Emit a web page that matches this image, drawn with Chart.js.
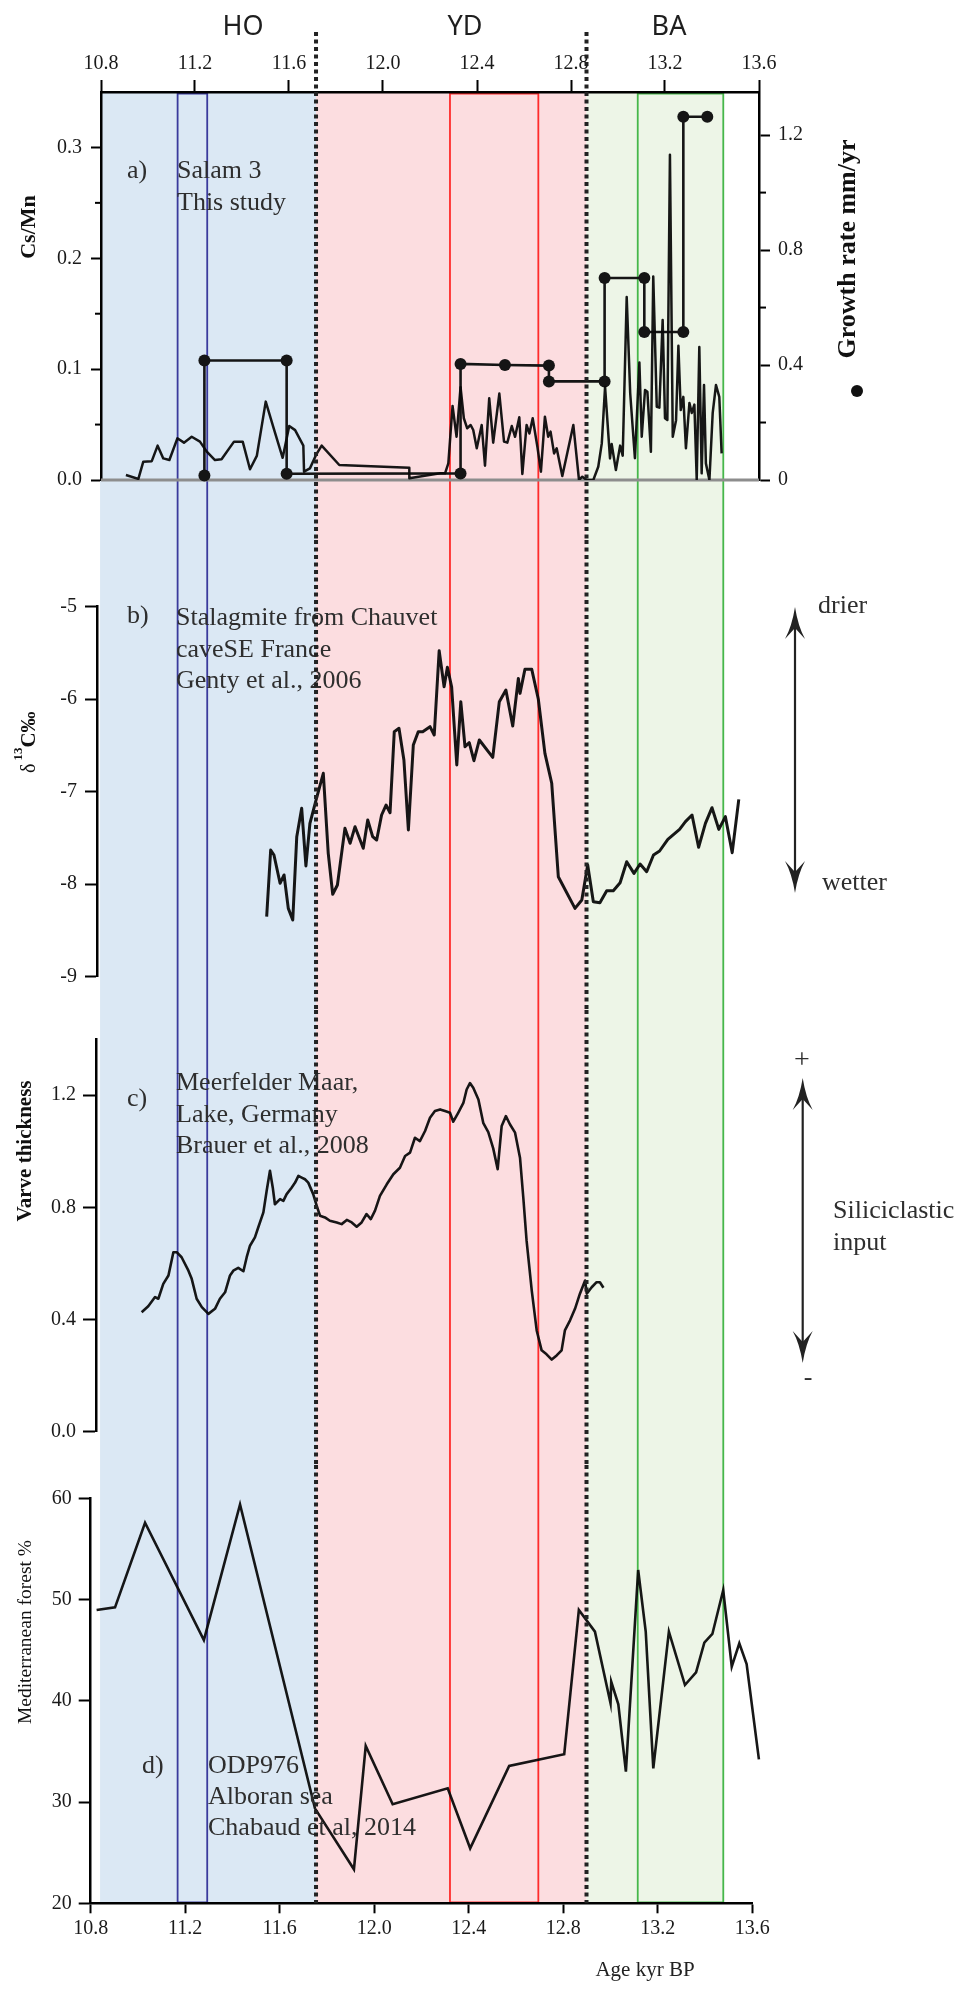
<!DOCTYPE html>
<html><head><meta charset="utf-8">
<script src="https://cdn.jsdelivr.net/npm/chart.js@4.4.1/dist/chart.umd.min.js"></script>
<style>
html,body{margin:0;padding:0;background:#fff;}
#wrap{position:relative;width:963px;height:2000px;overflow:hidden;background:#fff;}
#wrap canvas{position:absolute;left:0;}
</style></head><body><div id="wrap">
<canvas id="ca" width="963" height="540" style="top:0px"></canvas>
<canvas id="cb" width="963" height="470" style="top:540px"></canvas>
<canvas id="cc" width="963" height="455" style="top:1010px"></canvas>
<canvas id="cd" width="963" height="535" style="top:1465px"></canvas>
</div>
<script>
// ---------------- DATA ----------------
const X_TICKS = [10.8, 11.2, 11.6, 12.0, 12.4, 12.8, 13.2, 13.6];

const PERIOD_LABELS = ['HO', 'YD', 'BA'];
const PERIOD_LABEL_AT = [11.404, 12.349, 13.217];
const PERIOD_BOUNDS = [10.796, 11.715, 12.866, 13.448];
const BOX_RANGES = [[11.126, 11.252], [12.285, 12.661], [13.084, 13.448]];
const DOTTED_AT = [11.715, 12.866];

// a) Salam 3 Cs/Mn
const A_AGE = [10.906,10.959,10.980,11.016,11.041,11.065,11.091,11.125,11.153,11.186,11.221,11.250,11.285,11.313,11.366,11.403,11.434,11.463,11.501,11.533,11.573,11.601,11.626,11.661,11.664,11.689,11.715,11.739,11.814,12.112,12.112,12.243,12.264,12.278,12.296,12.313,12.330,12.344,12.358,12.373,12.384,12.399,12.420,12.434,12.452,12.469,12.495,12.515,12.529,12.548,12.562,12.580,12.593,12.611,12.623,12.637,12.657,12.672,12.689,12.703,12.713,12.728,12.739,12.763,12.810,12.834,12.848,12.867,12.895,12.916,12.931,12.945,12.963,12.966,12.973,12.991,13.009,13.020,13.037,13.052,13.072,13.091,13.101,13.115,13.125,13.140,13.150,13.165,13.176,13.190,13.200,13.210,13.221,13.233,13.247,13.257,13.267,13.278,13.289,13.304,13.314,13.325,13.335,13.346,13.356,13.366,13.374,13.389,13.403,13.417,13.431,13.441];
const A_CSMN = [0.0045,0.001,0.0165,0.017,0.031,0.0195,0.018,0.0376,0.0337,0.039,0.0346,0.0256,0.018,0.0187,0.0346,0.0346,0.0097,0.0217,0.0707,0.048,0.020,0.0487,0.045,0.031,0.0075,0.0105,0.0226,0.031,0.0135,0.011,0.0015,0.006,0.006,0.015,0.0668,0.039,0.0837,0.0557,0.0467,0.0496,0.0451,0.0286,0.0496,0.0129,0.0737,0.0337,0.078,0.0346,0.0337,0.0487,0.039,0.0566,0.0054,0.0496,0.042,0.0557,0.030,0.0075,0.0571,0.039,0.0436,0.024,0.0286,0.0036,0.0496,0.0,0.003,0.0,0.0,0.012,0.033,0.084,0.0286,0.0195,0.0325,0.009,0.031,0.022,0.165,0.078,0.0196,0.106,0.039,0.0812,0.0797,0.0255,0.1835,0.066,0.0653,0.1444,0.0557,0.0541,0.2934,0.039,0.054,0.121,0.0632,0.075,0.0286,0.0695,0.0605,0.068,0.0,0.120,0.006,0.0857,0.015,0.0,0.0605,0.0857,0.075,0.024];
const A_Y_TICKS = [0, 0.1, 0.2, 0.3];
const A_Y_MINOR = [0.05, 0.15, 0.25];

// a) growth rate (mm/yr)
const GR_AGE  = [11.240,11.240,11.590,11.590,12.330,12.330,12.519,12.706,12.706,12.943,12.943,13.112,13.112,13.278,13.278,13.380];
const GR_RATE = [0.016, 0.416, 0.416, 0.022, 0.023, 0.404, 0.400, 0.398, 0.343, 0.343, 0.703, 0.703, 0.515, 0.515, 1.264, 1.264];
const GR_TICKS = [0, 0.4, 0.8, 1.2];
const GR_MINOR = [0.2, 0.6, 1.0];

// b) Chauvet d13C
const B_AGE = [11.505,11.522,11.536,11.562,11.579,11.597,11.616,11.633,11.654,11.672,11.689,11.715,11.746,11.767,11.786,11.806,11.838,11.860,11.881,11.916,11.935,11.956,11.973,11.994,12.013,12.030,12.048,12.068,12.089,12.108,12.129,12.150,12.169,12.200,12.218,12.239,12.260,12.274,12.292,12.314,12.331,12.349,12.367,12.387,12.410,12.467,12.495,12.523,12.552,12.576,12.583,12.604,12.633,12.661,12.689,12.718,12.746,12.817,12.846,12.871,12.895,12.923,12.952,12.980,13.009,13.037,13.068,13.094,13.122,13.151,13.177,13.212,13.262,13.287,13.315,13.343,13.372,13.400,13.429,13.457,13.486,13.514];
const B_D13C = [-8.351,-7.630,-7.684,-7.990,-7.900,-8.261,-8.387,-7.486,-7.180,-7.803,-7.342,-7.09,-6.801,-7.666,-8.109,-8.009,-7.396,-7.558,-7.378,-7.612,-7.306,-7.486,-7.522,-7.252,-7.144,-7.227,-6.351,-6.315,-6.657,-7.414,-6.495,-6.351,-6.351,-6.297,-6.387,-5.476,-5.865,-5.655,-5.865,-6.711,-6.027,-6.514,-6.470,-6.665,-6.441,-6.629,-6.027,-5.901,-6.290,-5.775,-5.937,-5.677,-5.677,-6.001,-6.585,-6.909,-7.919,-8.261,-8.171,-7.793,-8.189,-8.200,-8.070,-8.070,-7.984,-7.757,-7.883,-7.782,-7.865,-7.684,-7.641,-7.515,-7.407,-7.324,-7.252,-7.601,-7.342,-7.173,-7.407,-7.270,-7.659,-7.083];
const B_Y_TICKS = [-9, -8, -7, -6, -5];

// c) Meerfelder Maar varve thickness
const C_AGE = [10.973,11.001,11.030,11.044,11.065,11.087,11.108,11.122,11.143,11.172,11.186,11.207,11.229,11.257,11.285,11.306,11.328,11.349,11.363,11.384,11.406,11.420,11.434,11.455,11.469,11.491,11.505,11.519,11.531,11.540,11.562,11.576,11.590,11.611,11.626,11.640,11.654,11.668,11.682,11.703,11.718,11.732,11.753,11.774,11.803,11.824,11.846,11.867,11.888,11.909,11.930,11.948,11.966,11.987,12.016,12.044,12.072,12.094,12.115,12.136,12.157,12.179,12.200,12.221,12.243,12.264,12.285,12.299,12.320,12.342,12.356,12.370,12.384,12.406,12.427,12.448,12.469,12.488,12.505,12.523,12.540,12.562,12.583,12.597,12.611,12.633,12.654,12.675,12.696,12.718,12.739,12.760,12.774,12.796,12.817,12.838,12.860,12.867,12.888,12.909,12.923,12.938];
const C_VARVE = [0.426,0.447,0.480,0.474,0.527,0.557,0.640,0.640,0.622,0.574,0.545,0.474,0.444,0.420,0.438,0.474,0.497,0.557,0.574,0.584,0.572,0.622,0.663,0.693,0.728,0.782,0.859,0.930,0.870,0.811,0.829,0.823,0.847,0.870,0.888,0.912,0.906,0.900,0.888,0.847,0.805,0.770,0.764,0.752,0.746,0.740,0.755,0.746,0.731,0.746,0.776,0.758,0.788,0.841,0.882,0.918,0.941,0.983,0.995,1.048,1.036,1.072,1.119,1.143,1.149,1.143,1.137,1.105,1.137,1.172,1.220,1.243,1.226,1.184,1.100,1.068,1.010,0.936,1.090,1.125,1.096,1.066,0.977,0.835,0.681,0.503,0.361,0.290,0.276,0.257,0.272,0.290,0.361,0.397,0.438,0.492,0.539,0.492,0.515,0.533,0.533,0.513];
const C_Y_TICKS = [0, 0.4, 0.8, 1.2];

// d) ODP976 Mediterranean forest %
const D_AGE = [10.825,10.903,11.030,11.279,11.432,11.749,11.914,11.964,12.078,12.311,12.406,12.571,12.804,12.866,12.934,13.000,13.003,13.033,13.065,13.117,13.149,13.181,13.247,13.315,13.362,13.397,13.431,13.477,13.513,13.545,13.576,13.628];
const D_FOREST = [48.97,49.23,57.59,46.0,59.4,29.38,23.36,35.54,29.78,31.36,25.43,33.56,34.72,48.97,46.83,39.75,41.88,39.65,33.0,52.92,46.83,33.33,46.83,41.56,42.81,45.74,46.60,50.94,43.37,45.68,43.63,34.22];
const D_Y_TICKS = [20, 30, 40, 50, 60];

// ---------------- STYLE / LAYOUT ----------------
const SERIF = '"Liberation Serif", "Times New Roman", serif';
const SANS = '"Noto Sans", "Open Sans", sans-serif';
const BAND_COLORS = ['#dbe8f4', '#fcdde0', '#edf5e7'];
const BOX_COLORS = ['#3a3a9c', '#ff2b2b', '#46b74a'];
const NOTE_C = '#2e2e2e';
const TICK_C = '#1a1a1a';
// pixel mapping of the top age axis (10.8 -> 101 px, 13.6 -> 759 px)
const TOP_AX = {p0: 101, p1: 759, v0: 10.8, v1: 13.6};
function topVal(px) { return TOP_AX.v0 + (px - TOP_AX.p0) * (TOP_AX.v1 - TOP_AX.v0) / (TOP_AX.p1 - TOP_AX.p0); }

Chart.defaults.font.family = SERIF;
Chart.defaults.color = TICK_C;

function pts(xs, ys) { return xs.map((x, i) => ({x: x, y: ys[i]})); }

function yAxis(o) {
  return {
    type: 'linear', position: o.pos || 'left', min: o.min, max: o.max,
    afterFit: s => { s.width = o.width; },
    afterBuildTicks: s => { s.ticks = o.ticks.map(v => ({value: v})); },
    grid: {drawOnChartArea: false, drawTicks: true, tickLength: o.tl, tickWidth: 2, tickColor: '#000', color: 'rgba(0,0,0,0)'},
    border: {display: true, width: 2.5, color: '#000'},
    ticks: {padding: o.pad, font: {size: 20, family: SERIF}, color: TICK_C, callback: o.fmt, autoSkip: false}
  };
}
function xAxis(o) {
  return {
    type: 'linear', position: o.pos, min: 10.8, max: 13.6,
    afterFit: s => { s.height = o.height; },
    afterBuildTicks: s => { s.ticks = X_TICKS.map(v => ({value: v})); },
    grid: {drawOnChartArea: false, drawTicks: true, tickLength: o.tl, tickWidth: 2, tickColor: '#000', color: 'rgba(0,0,0,0)'},
    border: {display: true, width: 2.5, color: '#000'},
    ticks: {padding: o.pad, font: {size: 20, family: SERIF}, color: TICK_C, callback: v => v.toFixed(1), autoSkip: false, maxRotation: 0}
  };
}

function drawArrow(ctx, x, y0, y1) {
  const hl = 32, hw = 10, notch = 21;
  ctx.save();
  ctx.fillStyle = '#222'; ctx.strokeStyle = '#222'; ctx.lineWidth = 2.2;
  ctx.beginPath(); ctx.moveTo(x, y0 + notch - 2); ctx.lineTo(x, y1 - notch + 2); ctx.stroke();
  ctx.beginPath(); ctx.moveTo(x, y0); ctx.quadraticCurveTo(x + 3, y0 + hl * 0.6, x + hw, y0 + hl); ctx.lineTo(x, y0 + notch); ctx.lineTo(x - hw, y0 + hl); ctx.quadraticCurveTo(x - 3, y0 + hl * 0.6, x, y0); ctx.fill();
  ctx.beginPath(); ctx.moveTo(x, y1); ctx.quadraticCurveTo(x + 3, y1 - hl * 0.6, x + hw, y1 - hl); ctx.lineTo(x, y1 - notch); ctx.lineTo(x - hw, y1 - hl); ctx.quadraticCurveTo(x - 3, y1 - hl * 0.6, x, y1); ctx.fill();
  ctx.restore();
}

function drawNote(chart, n, top) {
  const ctx = chart.ctx;
  ctx.save();
  const x = (n.xv !== undefined) ? chart.scales[n.sc].getPixelForValue(n.xv) : n.x;
  ctx.translate(x, n.y - top);
  if (n.r) ctx.rotate(n.r);
  ctx.fillStyle = n.c || NOTE_C;
  ctx.textBaseline = n.b || 'alphabetic';
  if (n.segs) {
    ctx.textAlign = 'left';
    let cx = 0;
    for (const s of n.segs) {
      ctx.font = s.f;
      ctx.fillText(s.t, cx, s.dy || 0);
      cx += ctx.measureText(s.t).width + (s.gap || 0);
    }
  } else {
    ctx.textAlign = n.a || 'left';
    ctx.font = n.f;
    ctx.fillText(n.t, 0, 0);
  }
  ctx.restore();
}

const decoPlugin = {
  id: 'deco',
  beforeDraw(chart, args, o) {
    const {ctx, chartArea, height} = chart;
    const sc = chart.scales[o.scale];
    const y0 = o.fromArea ? chartArea.top : 0;
    const y1 = o.toArea ? chartArea.bottom : height;
    ctx.save();
    for (let i = 0; i < PERIOD_LABELS.length; i++) {
      const xa = sc.getPixelForValue(PERIOD_BOUNDS[i]);
      const xb = sc.getPixelForValue(PERIOD_BOUNDS[i + 1]);
      ctx.fillStyle = BAND_COLORS[i];
      ctx.fillRect(xa, y0, xb - xa, y1 - y0);
    }
    ctx.lineWidth = 1.8;
    BOX_RANGES.forEach((r, i) => {
      const xa = sc.getPixelForValue(r[0]), xb = sc.getPixelForValue(r[1]);
      ctx.strokeStyle = BOX_COLORS[i];
      ctx.beginPath();
      ctx.moveTo(xa, y0); ctx.lineTo(xa, y1);
      ctx.moveTo(xb, y0); ctx.lineTo(xb, y1);
      if (o.fromArea) { ctx.moveTo(xa, y0 + 1.6); ctx.lineTo(xb, y0 + 1.6); }
      if (o.toArea) { ctx.moveTo(xa, y1 - 1); ctx.lineTo(xb, y1 - 1); }
      ctx.stroke();
    });
    ctx.restore();
  },
  beforeDatasetsDraw(chart, args, o) {
    const {ctx, chartArea} = chart;
    ctx.save();
    if (o.zero) {
      const yz = chart.scales[o.zero].getPixelForValue(0);
      ctx.strokeStyle = '#8d8d8d'; ctx.lineWidth = 3;
      ctx.beginPath(); ctx.moveTo(chartArea.left, yz); ctx.lineTo(chartArea.right, yz); ctx.stroke();
    }
    (o.minor || []).forEach(m => {
      const s = chart.scales[m.scale];
      ctx.strokeStyle = '#000'; ctx.lineWidth = 2;
      m.values.forEach(v => {
        const y = s.getPixelForValue(v);
        const x = m.side === 'left' ? chartArea.left : chartArea.right;
        ctx.beginPath(); ctx.moveTo(x, y);
        ctx.lineTo(m.side === 'left' ? x - m.len : x + m.len, y); ctx.stroke();
      });
    });
    ctx.restore();
  },
  afterDatasetsDraw(chart, args, o) {
    const {ctx, chartArea, height} = chart;
    (o.notes || []).forEach(n => drawNote(chart, n, o.top));
    (o.arrows || []).forEach(a => drawArrow(ctx, a.x, a.y0 - o.top, a.y1 - o.top));
    (o.dots || []).forEach(d => {
      ctx.save(); ctx.fillStyle = '#111';
      ctx.beginPath(); ctx.arc(d.x, d.y - o.top, d.r, 0, Math.PI * 2); ctx.fill(); ctx.restore();
    });
    const sc = chart.scales[o.scale];
    const y0 = (o.dotTop !== undefined) ? o.dotTop : 0;
    const y1 = o.toArea ? chartArea.bottom : height;
    ctx.save();
    ctx.strokeStyle = '#222'; ctx.lineWidth = 4; ctx.setLineDash([4, 3.5]);
    DOTTED_AT.forEach(v => {
      const x = sc.getPixelForValue(v);
      ctx.beginPath(); ctx.moveTo(x, y0); ctx.lineTo(x, y1); ctx.stroke();
    });
    ctx.restore();
  }
};

const common = {
  type: 'line',
  plugins: [decoPlugin]
};
function baseOptions(padding, scales, deco) {
  return {
    responsive: false, animation: false, devicePixelRatio: 1, events: [],
    layout: {padding: padding},
    scales: scales,
    plugins: {legend: {display: false}, tooltip: {enabled: false}, deco: deco}
  };
}
const LINE_C = 'rgba(8,8,8,0.94)';

// ---------------- Chart a ----------------
new Chart(document.getElementById('ca'), Object.assign({}, common, {
  data: {datasets: [
    {data: pts(A_AGE, A_CSMN), xAxisID: 'x', yAxisID: 'y', borderColor: LINE_C, borderWidth: 2.5, pointRadius: 0, tension: 0, borderJoinStyle: 'round'},
    {data: pts(GR_AGE, GR_RATE), xAxisID: 'x', yAxisID: 'y2', borderColor: '#151515', borderWidth: 2.6, pointRadius: 6, pointBackgroundColor: '#151515', pointBorderColor: '#151515', pointBorderWidth: 0, tension: 0, clip: false}
  ]},
  options: baseOptions({left: 0, right: 0, top: 0, bottom: 60}, {
    x: xAxis({pos: 'top', height: 92, tl: 12, pad: 4}),
    y: yAxis({min: 0, max: 0.35, ticks: A_Y_TICKS, width: 101, tl: 10, pad: 9, fmt: v => v.toFixed(1)}),
    y2: yAxis({pos: 'right', min: 0, max: 1.35, ticks: GR_TICKS, width: 204, tl: 11, pad: 8, fmt: v => v === 0 ? '0' : v.toFixed(1)})
  }, {
    scale: 'x', fromArea: true, toArea: false, dotTop: 32, top: 0, zero: 'y',
    minor: [{scale: 'y', values: A_Y_MINOR, side: 'left', len: 6}, {scale: 'y2', values: GR_MINOR, side: 'right', len: 7}],
    notes: [
      ...PERIOD_LABELS.map((t, i) => ({t: t, sc: 'x', xv: PERIOD_LABEL_AT[i], y: 35, f: `27px ${SANS}`, a: 'center', c: '#1e1e1e'})),
      {t: 'a)', x: 127, y: 178, f: `26px ${SERIF}`},
      {t: 'Salam 3', x: 177, y: 178, f: `26px ${SERIF}`},
      {t: 'This study', x: 177, y: 210, f: `26px ${SERIF}`},
      {t: 'Cs/Mn', x: 35, y: 227, f: `bold 22px ${SERIF}`, a: 'center', r: -Math.PI / 2, c: '#111'},
      {t: 'Growth rate mm/yr', x: 855, y: 249, f: `bold 26px ${SERIF}`, a: 'center', r: -Math.PI / 2, c: '#111'}
    ],
    dots: [{x: 857, y: 391, r: 6}]
  })
}));

// ---------------- Chart b ----------------
new Chart(document.getElementById('cb'), Object.assign({}, common, {
  data: {datasets: [
    {data: pts(B_AGE, B_D13C), borderColor: LINE_C, borderWidth: 3, pointRadius: 0, tension: 0, borderJoinStyle: 'round'}
  ]},
  options: baseOptions({left: 0, right: 204, top: 66.7, bottom: 33.3}, {
    x: {type: 'linear', display: false, min: topVal(97), max: topVal(759)},
    y: yAxis({min: -9, max: -5, ticks: B_Y_TICKS, width: 97, tl: 12, pad: 8, fmt: v => String(v)})
  }, {
    scale: 'x', fromArea: false, toArea: false, top: 540,
    notes: [
      {t: 'b)', x: 127, y: 623, f: `26px ${SERIF}`},
      {t: 'Stalagmite from Chauvet', x: 176, y: 625, f: `26px ${SERIF}`},
      {t: 'caveSE France', x: 176, y: 657, f: `26px ${SERIF}`},
      {t: 'Genty et al., 2006', x: 176, y: 688, f: `26px ${SERIF}`},
      {t: 'drier', x: 818, y: 613, f: `26px ${SERIF}`},
      {t: 'wetter', x: 822, y: 890, f: `26px ${SERIF}`},
      {x: 35, y: 773, r: -Math.PI / 2, c: '#111', segs: [
        {t: 'δ', f: `20px ${SERIF}`, gap: 3},
        {t: '13', f: `bold 13px ${SERIF}`, dy: -13},
        {t: 'C‰', f: `bold 21px ${SERIF}`}
      ]}
    ],
    arrows: [{x: 795, y0: 607, y1: 893}]
  })
}));

// ---------------- Chart c ----------------
new Chart(document.getElementById('cc'), Object.assign({}, common, {
  data: {datasets: [
    {data: pts(C_AGE, C_VARVE), borderColor: LINE_C, borderWidth: 2.6, pointRadius: 0, tension: 0, borderJoinStyle: 'round'}
  ]},
  options: baseOptions({left: 0, right: 204, top: 29, bottom: 33.3}, {
    x: {type: 'linear', display: false, min: topVal(96), max: topVal(759)},
    y: yAxis({min: 0, max: 1.4, ticks: C_Y_TICKS, width: 96, tl: 13, pad: 7, fmt: v => v.toFixed(1)})
  }, {
    scale: 'x', fromArea: false, toArea: false, top: 1010,
    notes: [
      {t: 'c)', x: 127, y: 1106, f: `26px ${SERIF}`},
      {t: 'Meerfelder Maar,', x: 176, y: 1090, f: `26px ${SERIF}`},
      {t: 'Lake, Germany', x: 176, y: 1122, f: `26px ${SERIF}`},
      {t: 'Brauer et al., 2008', x: 176, y: 1153, f: `26px ${SERIF}`},
      {t: '+', x: 802, y: 1061, f: `28px ${SERIF}`, a: 'center', b: 'middle'},
      {t: '-', x: 808, y: 1378, f: `26px ${SERIF}`, a: 'center', b: 'middle'},
      {t: 'Siliciclastic', x: 833, y: 1218, f: `26px ${SERIF}`},
      {t: 'input', x: 833, y: 1250, f: `26px ${SERIF}`},
      {t: 'Varve thickness', x: 31, y: 1151, f: `bold 21px ${SERIF}`, a: 'center', r: -Math.PI / 2, c: '#111'}
    ],
    arrows: [{x: 802.7, y0: 1078, y1: 1363}]
  })
}));

// ---------------- Chart d ----------------
new Chart(document.getElementById('cd'), Object.assign({}, common, {
  data: {datasets: [
    {data: pts(D_AGE, D_FOREST), xAxisID: 'x', yAxisID: 'y', borderColor: LINE_C, borderWidth: 2.6, pointRadius: 0, tension: 0, clip: false}
  ]},
  options: baseOptions({left: 0, right: 210.7, top: 33.3, bottom: 0}, {
    x: xAxis({pos: 'bottom', height: 96.7, tl: 10, pad: 3}),
    xt: {type: 'linear', display: false, min: topVal(90.7), max: topVal(752.3)},
    y: yAxis({min: 20, max: 60, ticks: D_Y_TICKS, width: 90.7, tl: 12, pad: 7, fmt: v => String(v)})
  }, {
    scale: 'xt', fromArea: false, toArea: true, top: 1465,
    notes: [
      {t: 'd)', x: 142, y: 1773, f: `26px ${SERIF}`},
      {t: 'ODP976', x: 208, y: 1773, f: `26px ${SERIF}`},
      {t: 'Alboran sea', x: 208, y: 1804, f: `26px ${SERIF}`},
      {t: 'Chabaud et al, 2014', x: 208, y: 1835, f: `26px ${SERIF}`},
      {t: 'Mediterranean forest %', x: 31, y: 1632, f: `19.5px ${SERIF}`, a: 'center', r: -Math.PI / 2, c: '#111'},
      {t: 'Age kyr BP', x: 645, y: 1976, f: `21px ${SERIF}`, a: 'center', c: '#222'}
    ]
  })
}));
</script>
</body></html>
